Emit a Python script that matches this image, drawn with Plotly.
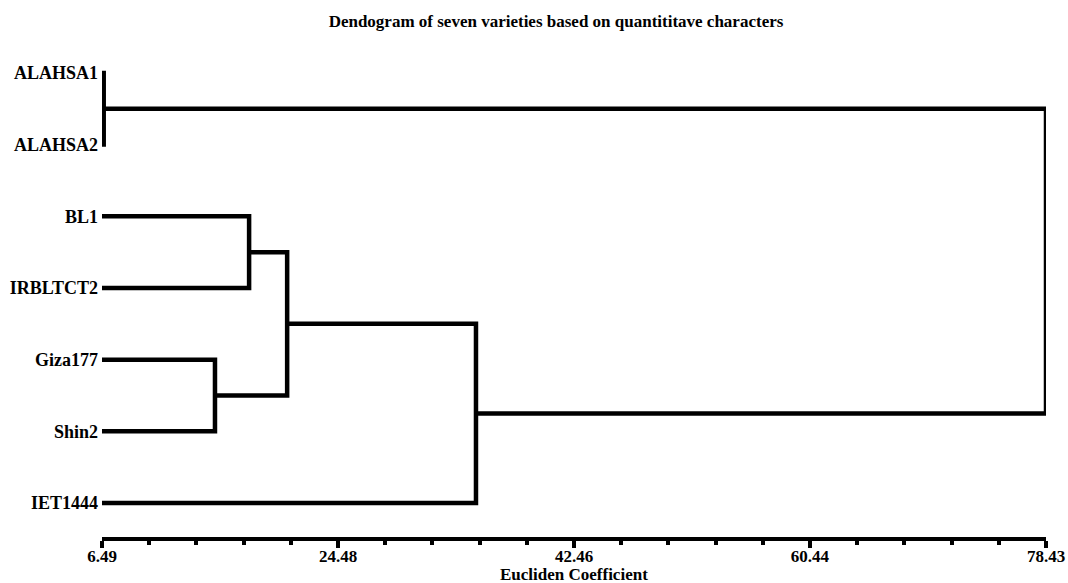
import plotly.graph_objects as go

# Leaf order (top to bottom)
leaves = ["ALAHSA1", "ALAHSA2", "BL1", "IRBLTCT2", "Giza177", "Shin2", "IET1444"]

# Merges: (left node, right node, height). Nodes 0..6 are leaves; new nodes get ids 7,8,...
merge_left = [0, 2, 4, 8, 10, 7]
merge_right = [1, 3, 5, 9, 6, 11]
merge_height = [6.62, 17.70, 15.10, 20.60, 34.99, 78.43]

tick_values = [6.49, 24.48, 42.46, 60.44, 78.43]
tick_labels = ["6.49", "24.48", "42.46", "60.44", "78.43"]
x_min, x_max = 6.49, 78.43

title_text = "Dendogram of seven varieties based on quantititave characters"
x_title = "Eucliden Coefficient"

# node positions
node_x = {i: x_min for i in range(len(leaves))}
node_y = {i: float(i) for i in range(len(leaves))}

xs, ys = [], []
nid = len(leaves)
for a, b, h in zip(merge_left, merge_right, merge_height):
    xs += [node_x[a], h, h, node_x[b], None]
    ys += [node_y[a], node_y[a], node_y[b], node_y[b], None]
    node_x[nid] = h
    node_y[nid] = (node_y[a] + node_y[b]) / 2
    nid += 1

font_family = "Liberation Serif, Times New Roman, serif"

fig = go.Figure()
fig.add_trace(go.Scatter(
    x=xs, y=ys, mode="lines",
    line=dict(color="black", width=4.5),
    hoverinfo="skip", showlegend=False, connectgaps=False,
))

fig.update_layout(
    width=1068, height=583,
    paper_bgcolor="white", plot_bgcolor="white",
    margin=dict(l=102, r=22, t=50, b=46, autoexpand=False),
    title=dict(
        text=title_text, x=0.5206, xanchor="center", y=0.964, yanchor="middle",
        font=dict(family=font_family, size=17, color="black", weight="bold"),
    ),
    xaxis=dict(
        range=[x_min, x_max], automargin=False,
        tickmode="array", tickvals=tick_values, ticktext=tick_labels,
        showline=True, linecolor="black", linewidth=4,
        ticks="outside", ticklen=7, tickwidth=4, tickcolor="black",
        minor=dict(tick0=x_min, dtick=(x_max - x_min) / 20, ticks="outside",
                   ticklen=4, tickwidth=4, tickcolor="black", showgrid=False),
        showgrid=False, zeroline=False,
        ticklabelstandoff=-6,
        tickfont=dict(family=font_family, size=17, color="black", weight="bold"),
        fixedrange=True,
    ),
    yaxis=dict(
        range=[6.474, -0.32], automargin=False,
        tickmode="array", tickvals=list(range(len(leaves))), ticktext=leaves,
        showline=False, showgrid=False, zeroline=False, ticks="",
        ticklabelstandoff=3,
        tickfont=dict(family=font_family, size=18, color="black", weight="bold"),
        fixedrange=True,
    ),
    annotations=[dict(
        text=x_title, xref="paper", yref="paper", x=0.5, y=0,
        xanchor="center", yanchor="middle", yshift=-37, showarrow=False,
        font=dict(family=font_family, size=17, color="black", weight="bold"),
    )],
)

fig.write_html(
    "out.html",
    config={"displayModeBar": False},
    post_script="document.body.style.margin='0';document.body.style.overflow='hidden';",
)
